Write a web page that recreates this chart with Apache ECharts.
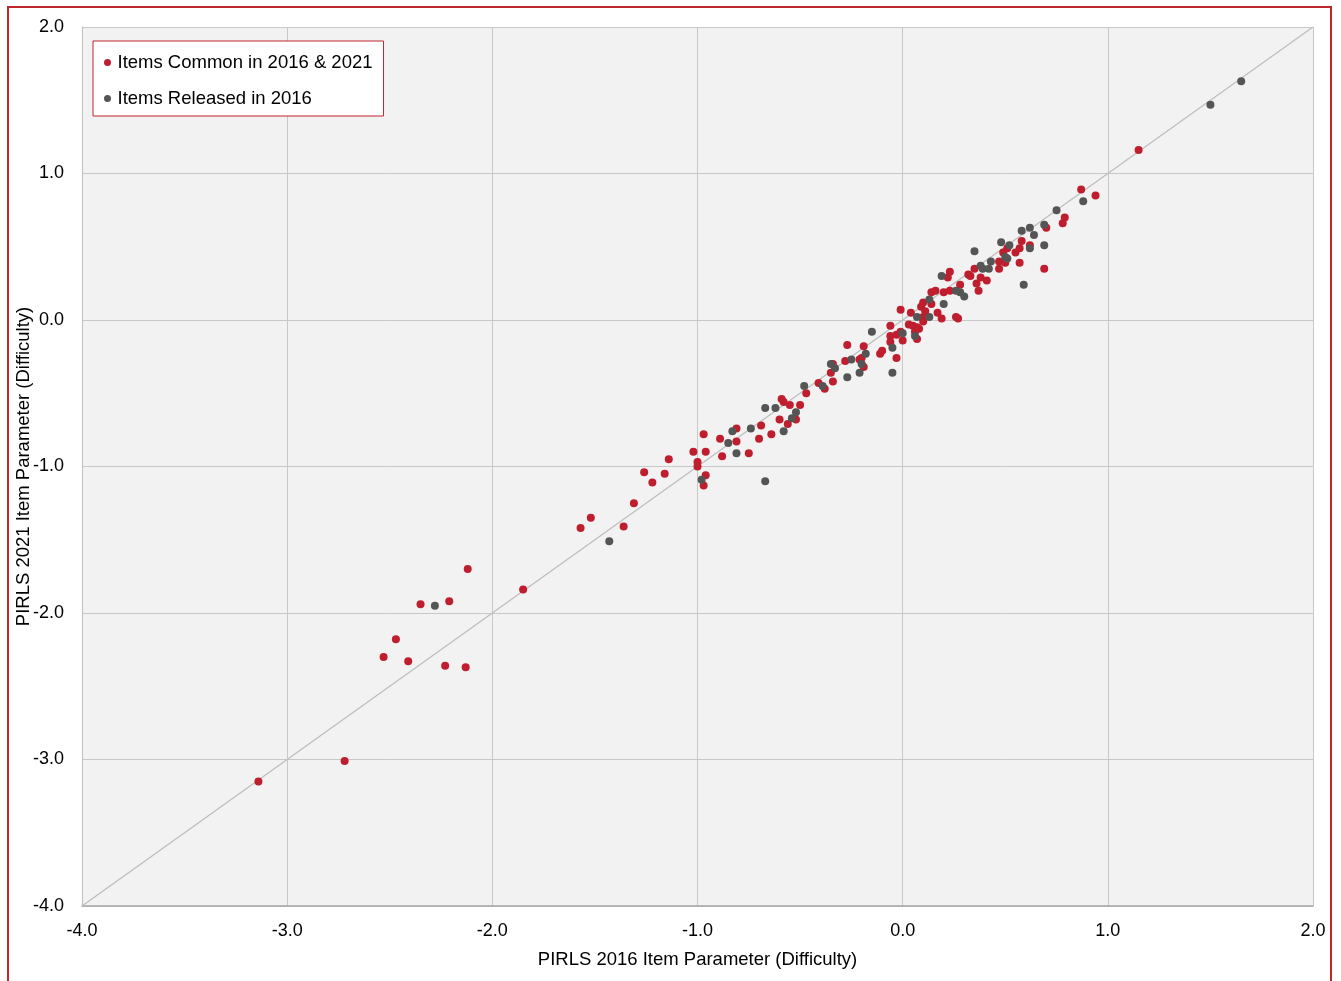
<!DOCTYPE html>
<html>
<head>
<meta charset="utf-8">
<script src="https://cdn.jsdelivr.net/npm/echarts@6/dist/echarts.min.js"></script>
<style>
  html, body { margin: 0; padding: 0; background: #fff; overflow: hidden; }
  #chart { position: absolute; left: 0; top: 0; width: 1341px; height: 981px; }
  #frame { position: absolute; left: 7px; top: 6px; width: 1325px; height: 1000px;
           box-sizing: border-box; border: 2px solid #c0272d; pointer-events: none; }
</style>
</head>
<body>
<div id="chart"></div>
<div id="frame"></div>
<script>
// PIRLS 2016 parameter (x) vs PIRLS 2021 parameter (y)
var commonItems = [
  [-3.14, -3.15], [-2.72, -3.01], [-2.53, -2.30], [-2.47, -2.18], [-2.41, -2.33],
  [-2.35, -1.94], [-2.23, -2.36], [-2.21, -1.92], [-2.13, -2.37], [-2.12, -1.70],
  [-1.85, -1.84], [-1.57, -1.42], [-1.52, -1.35], [-1.36, -1.41], [-1.31, -1.25],
  [-1.26, -1.04], [-1.22, -1.11], [-1.16, -1.05], [-1.14, -0.95], [-1.02, -0.90],
  [-0.97, -0.78], [-0.96, -0.90], [-1.00, -0.97], [-1.00, -1.00], [-0.96, -1.06],
  [-0.97, -1.13], [-0.89, -0.81], [-0.88, -0.93], [-0.81, -0.74], [-0.81, -0.83],
  [-0.75, -0.91], [-0.70, -0.81], [-0.69, -0.72], [-0.64, -0.78], [-0.60, -0.68],
  [-0.59, -0.54], [-0.58, -0.56], [-0.56, -0.71], [-0.55, -0.58], [-0.52, -0.68],
  [-0.50, -0.58], [-0.47, -0.50], [-0.41, -0.43], [-0.38, -0.47], [-0.35, -0.36],
  [-0.34, -0.30], [-0.34, -0.42], [-0.28, -0.28], [-0.27, -0.17], [-0.21, -0.27],
  [-0.20, -0.26], [-0.19, -0.32], [-0.19, -0.18], [-0.11, -0.23], [-0.10, -0.21],
  [-0.06, -0.04], [-0.06, -0.11], [-0.06, -0.15], [-0.03, -0.10], [-0.03, -0.26],
  [-0.01, -0.08], [-0.01, 0.07], [0.00, -0.14], [0.03, -0.03], [0.04, 0.05],
  [0.05, -0.04], [0.06, -0.08], [0.07, -0.05], [0.07, -0.13], [0.08, -0.06],
  [0.09, 0.09], [0.10, 0.12], [0.10, 0.02], [0.10, -0.01], [0.11, 0.06],
  [0.14, 0.19], [0.14, 0.11], [0.16, 0.20], [0.17, 0.05], [0.19, 0.01],
  [0.20, 0.19], [0.22, 0.29], [0.23, 0.33], [0.23, 0.20], [0.26, 0.02],
  [0.27, 0.01], [0.28, 0.24], [0.32, 0.31], [0.33, 0.30], [0.35, 0.35],
  [0.36, 0.25], [0.37, 0.20], [0.38, 0.29], [0.41, 0.27], [0.47, 0.40],
  [0.47, 0.35], [0.49, 0.46], [0.50, 0.39], [0.51, 0.49], [0.55, 0.46],
  [0.57, 0.49], [0.57, 0.39], [0.58, 0.54], [0.62, 0.51], [0.69, 0.35],
  [0.70, 0.63], [0.78, 0.66], [0.79, 0.70], [0.87, 0.89], [0.94, 0.85],
  [1.15, 1.16]
];
var releasedItems = [
  [-2.28, -1.95], [-1.43, -1.51], [-0.98, -1.09], [-0.85, -0.84], [-0.83, -0.76],
  [-0.81, -0.91], [-0.74, -0.74], [-0.67, -0.60], [-0.67, -1.10], [-0.62, -0.60],
  [-0.58, -0.76], [-0.54, -0.67], [-0.52, -0.63], [-0.48, -0.45], [-0.39, -0.45],
  [-0.35, -0.30], [-0.33, -0.33], [-0.27, -0.39], [-0.25, -0.27], [-0.21, -0.36],
  [-0.20, -0.30], [-0.18, -0.23], [-0.15, -0.08], [-0.05, -0.19], [-0.05, -0.36],
  [0.00, -0.09], [0.06, -0.11], [0.07, 0.02], [0.13, 0.02], [0.13, 0.14],
  [0.19, 0.30], [0.20, 0.11], [0.26, 0.20], [0.28, 0.19], [0.30, 0.16],
  [0.38, 0.37], [0.39, 0.35], [0.42, 0.35], [0.43, 0.40], [0.35, 0.47],
  [0.48, 0.53], [0.50, 0.43], [0.51, 0.42], [0.52, 0.51], [0.58, 0.61],
  [0.59, 0.24], [0.62, 0.49], [0.62, 0.63], [0.64, 0.58], [0.69, 0.65],
  [0.69, 0.51], [0.75, 0.75], [0.88, 0.81], [1.50, 1.47], [1.65, 1.63]
];
var identityLine = [[-4, -4], [2, 2]];
var seriesNames = ['Items Common in 2016 & 2021', 'Items Released in 2016'];

var myChart = echarts.init(document.getElementById('chart'));

var font = 'Liberation Sans, Arial, sans-serif';
var fmt = function (v) { return v.toFixed(1); };

var option = {
  backgroundColor: '#ffffff',
  animation: false,
  textStyle: { fontFamily: font, color: '#000' },
  grid: {
    left: 82, right: 28, top: 27, bottom: 75,
    outerBoundsMode: 'none',
    containLabel: false,
    show: true, backgroundColor: '#f2f2f2', borderWidth: 0
  },
  legend: {
    data: seriesNames,
    orient: 'vertical',
    left: 93, top: 41,
    padding: [12, 11, 8, 11],
    itemGap: 17,
    itemWidth: 10, itemHeight: 7,
    icon: 'circle',
    backgroundColor: '#ffffff',
    borderColor: '#c0272d',
    borderWidth: 1,
    textStyle: { fontFamily: font, fontSize: 18.5, color: '#000' }
  },
  xAxis: {
    type: 'value',
    min: -4, max: 2, interval: 1,
    name: 'PIRLS 2016 Item Parameter (Difficulty)',
    nameLocation: 'middle',
    nameGap: 44,
    nameTextStyle: { fontFamily: font, fontSize: 18.5, color: '#000' },
    axisLine: { show: true, onZero: false, lineStyle: { color: '#a6a6a6', width: 1.5 } },
    axisTick: { show: false },
    axisLabel: { formatter: fmt, fontSize: 18, color: '#000', margin: 16 },
    splitLine: { show: true, lineStyle: { color: '#c8c8c8', width: 1 } }
  },
  yAxis: {
    type: 'value',
    min: -4, max: 2, interval: 1,
    name: 'PIRLS 2021 Item Parameter (Difficulty)',
    nameLocation: 'middle',
    nameGap: 49,
    nameMoveOverlap: false,
    nameTextStyle: { fontFamily: font, fontSize: 18.5, color: '#000' },
    axisLine: { show: true, onZero: false, lineStyle: { color: '#bfbfbf', width: 1 } },
    axisTick: { show: false },
    axisLabel: { formatter: fmt, fontSize: 18, color: '#000', margin: 18 },
    splitLine: { show: true, lineStyle: { color: '#c8c8c8', width: 1 } }
  },
  series: [
    {
      name: 'identity',
      type: 'line',
      data: identityLine,
      showSymbol: false,
      silent: true,
      z: 1,
      lineStyle: { color: '#c0c0c0', width: 1.5 }
    },
    {
      name: seriesNames[0],
      type: 'scatter',
      data: commonItems,
      symbolSize: 8,
      z: 3,
      itemStyle: { color: '#be1e2d', opacity: 1 }
    },
    {
      name: seriesNames[1],
      type: 'scatter',
      data: releasedItems,
      symbolSize: 8,
      z: 4,
      itemStyle: { color: '#555555', opacity: 1 }
    }
  ]
};

myChart.setOption(option);
</script>
</body>
</html>
